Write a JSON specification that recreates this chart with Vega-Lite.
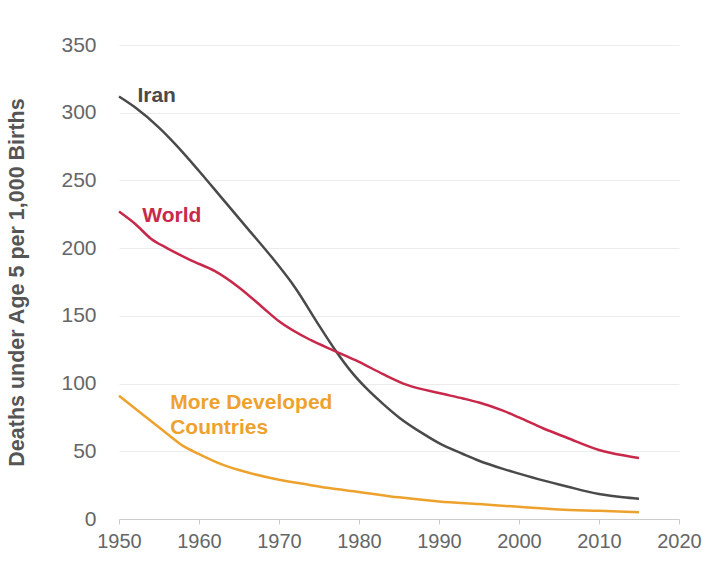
{
  "$schema": "https://vega.github.io/schema/vega-lite/v6.json",
  "width": 560,
  "height": 474,
  "autosize": "none",
  "padding": {"left": 119, "top": 45, "right": 28, "bottom": 61},
  "background": "white",
  "config": {"view": {"stroke": null}, "font": "Liberation Sans"},
  "datasets": {
    "series": [
      {"year": 1950, "value": 312, "series": "Iran"},
      {"year": 1952, "value": 304, "series": "Iran"},
      {"year": 1955, "value": 289, "series": "Iran"},
      {"year": 1957, "value": 277, "series": "Iran"},
      {"year": 1960, "value": 257, "series": "Iran"},
      {"year": 1963, "value": 236, "series": "Iran"},
      {"year": 1966, "value": 215, "series": "Iran"},
      {"year": 1969, "value": 194, "series": "Iran"},
      {"year": 1972, "value": 171, "series": "Iran"},
      {"year": 1975, "value": 143, "series": "Iran"},
      {"year": 1977, "value": 125, "series": "Iran"},
      {"year": 1979, "value": 109, "series": "Iran"},
      {"year": 1981, "value": 96, "series": "Iran"},
      {"year": 1983, "value": 85, "series": "Iran"},
      {"year": 1985, "value": 75, "series": "Iran"},
      {"year": 1988, "value": 63, "series": "Iran"},
      {"year": 1990, "value": 56, "series": "Iran"},
      {"year": 1993, "value": 48, "series": "Iran"},
      {"year": 1995, "value": 43, "series": "Iran"},
      {"year": 1998, "value": 37, "series": "Iran"},
      {"year": 2000, "value": 33.5, "series": "Iran"},
      {"year": 2003, "value": 28.5, "series": "Iran"},
      {"year": 2006, "value": 24, "series": "Iran"},
      {"year": 2010, "value": 18.5, "series": "Iran"},
      {"year": 2013, "value": 16, "series": "Iran"},
      {"year": 2015, "value": 15, "series": "Iran"},
      {"year": 1950, "value": 227, "series": "World"},
      {"year": 1952, "value": 218, "series": "World"},
      {"year": 1954, "value": 207, "series": "World"},
      {"year": 1956, "value": 200, "series": "World"},
      {"year": 1959, "value": 191, "series": "World"},
      {"year": 1962, "value": 183, "series": "World"},
      {"year": 1965, "value": 171, "series": "World"},
      {"year": 1968, "value": 156, "series": "World"},
      {"year": 1970, "value": 146, "series": "World"},
      {"year": 1974, "value": 132, "series": "World"},
      {"year": 1977, "value": 124, "series": "World"},
      {"year": 1980, "value": 116, "series": "World"},
      {"year": 1983, "value": 107, "series": "World"},
      {"year": 1986, "value": 99, "series": "World"},
      {"year": 1990, "value": 93, "series": "World"},
      {"year": 1993, "value": 89, "series": "World"},
      {"year": 1995, "value": 86, "series": "World"},
      {"year": 1998, "value": 80, "series": "World"},
      {"year": 2000, "value": 75, "series": "World"},
      {"year": 2003, "value": 67, "series": "World"},
      {"year": 2006, "value": 60, "series": "World"},
      {"year": 2010, "value": 51, "series": "World"},
      {"year": 2013, "value": 47, "series": "World"},
      {"year": 2015, "value": 45, "series": "World"},
      {"year": 1950, "value": 91, "series": "More Developed Countries"},
      {"year": 1953, "value": 77, "series": "More Developed Countries"},
      {"year": 1956, "value": 63, "series": "More Developed Countries"},
      {"year": 1958, "value": 54, "series": "More Developed Countries"},
      {"year": 1960, "value": 48, "series": "More Developed Countries"},
      {"year": 1963, "value": 40, "series": "More Developed Countries"},
      {"year": 1966, "value": 34.5, "series": "More Developed Countries"},
      {"year": 1970, "value": 29, "series": "More Developed Countries"},
      {"year": 1973, "value": 26, "series": "More Developed Countries"},
      {"year": 1976, "value": 23, "series": "More Developed Countries"},
      {"year": 1980, "value": 20, "series": "More Developed Countries"},
      {"year": 1985, "value": 16, "series": "More Developed Countries"},
      {"year": 1990, "value": 13, "series": "More Developed Countries"},
      {"year": 1995, "value": 11, "series": "More Developed Countries"},
      {"year": 2000, "value": 9, "series": "More Developed Countries"},
      {"year": 2005, "value": 7, "series": "More Developed Countries"},
      {"year": 2010, "value": 6, "series": "More Developed Countries"},
      {"year": 2015, "value": 5, "series": "More Developed Countries"}
    ],
    "labels": [
      {"year": 1952.3, "value": 312, "text": "Iran", "series": "Iran"},
      {"year": 1952.9, "value": 224, "text": "World", "series": "World"},
      {"year": 1956.4, "value": 86, "text": "More Developed", "series": "More Developed Countries"},
      {"year": 1956.4, "value": 67.5, "text": "Countries", "series": "More Developed Countries"}
    ]
  },
  "layer": [
    {
      "data": {"name": "series"},
      "mark": {"type": "line", "strokeWidth": 2.5, "interpolate": "monotone"},
      "encoding": {
        "x": {
          "field": "year", "type": "quantitative",
          "scale": {"domain": [1950, 2020], "nice": false, "zero": false},
          "axis": {
            "title": null,
            "values": [1950, 1955, 1960, 1965, 1970, 1975, 1980, 1985, 1990, 1995, 2000, 2005, 2010, 2015, 2020],
            "labelExpr": "datum.value % 10 == 0 ? datum.value + '' : ''",
            "labelFlush": false,
            "labelOverlap": false,
            "grid": false,
            "domainColor": "#cccccc",
            "tickColor": "#cccccc",
            "tickSize": 5,
            "labelFontSize": 20,
            "labelColor": "#666666",
            "labelPadding": 7,
            "labelFont": "Liberation Sans"
          }
        },
        "y": {
          "field": "value", "type": "quantitative",
          "scale": {"domain": [0, 350], "nice": false},
          "axis": {
            "title": "Deaths under Age 5 per 1,000  Births",
            "titleFontSize": 21.5,
            "titleFontWeight": "bold",
            "titleColor": "#555555",
            "titleFont": "Liberation Sans",
            "titlePadding": 32,
            "values": [0, 50, 100, 150, 200, 250, 300, 350],
            "domain": false,
            "ticks": false,
            "gridColor": "#ececec",
            "labelFontSize": 21,
            "labelColor": "#666666",
            "labelPadding": 23,
            "labelFont": "Liberation Sans"
          }
        },
        "color": {
          "field": "series", "type": "nominal",
          "scale": {"domain": ["Iran", "World", "More Developed Countries"], "range": ["#4a4a4a", "#c8284a", "#eea22e"]},
          "legend": null
        }
      }
    },
    {
      "data": {"name": "labels"},
      "mark": {"type": "text", "align": "left", "baseline": "middle", "fontWeight": "bold", "fontSize": 21, "font": "Liberation Sans"},
      "encoding": {
        "x": {"field": "year", "type": "quantitative"},
        "y": {"field": "value", "type": "quantitative"},
        "text": {"field": "text"},
        "color": {"field": "series", "type": "nominal", "scale": {"domain": ["Iran", "World", "More Developed Countries"], "range": ["#4a4a4a", "#c8284a", "#eea22e"]}, "legend": null}
      }
    }
  ]
}
